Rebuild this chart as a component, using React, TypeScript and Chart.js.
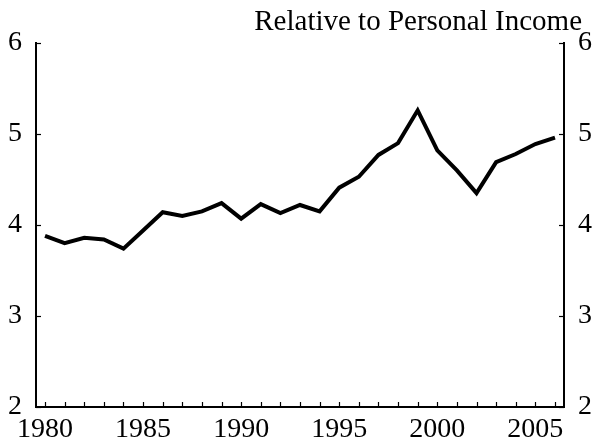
import React, { useEffect, useRef } from "react";
import { Chart, registerables } from "chart.js";

Chart.register(...registerables);

const years = [1980,1981,1982,1983,1984,1985,1986,1987,1988,1989,1990,1991,1992,1993,1994,1995,1996,1997,1998,1999,2000,2001,2002,2003,2004,2005,2006];
const values = [3.88,3.80,3.86,3.84,3.74,3.94,4.14,4.10,4.15,4.24,4.07,4.23,4.13,4.22,4.15,4.41,4.53,4.77,4.90,5.26,4.82,4.60,4.35,4.69,4.78,4.89,4.96];
const yTicks = [2, 3, 4, 5, 6];
const titleText = "Relative to Personal Income";

const FONT = "'Liberation Serif', 'Times New Roman', serif";

const innerTicks = {
  id: "innerTicks",
  afterDraw(chart: any) {
    const ctx = chart.ctx;
    const ca = chart.chartArea;
    ctx.save();
    ctx.strokeStyle = "#000";
    ctx.lineWidth = 1.2;
    const xs = chart.scales.x;
    xs.ticks.forEach((t: any) => {
      const px = Math.round(xs.getPixelForValue(t.value)) + 0.5;
      ctx.beginPath();
      ctx.moveTo(px, ca.bottom);
      ctx.lineTo(px, ca.bottom - 5);
      ctx.stroke();
    });
    ["y", "y2"].forEach((id) => {
      const s = chart.scales[id];
      s.ticks.forEach((t: any) => {
        const py = Math.round(s.getPixelForValue(t.value)) + 0.5;
        ctx.beginPath();
        if (id === "y") {
          ctx.moveTo(ca.left, py);
          ctx.lineTo(ca.left + 5, py);
        } else {
          ctx.moveTo(ca.right, py);
          ctx.lineTo(ca.right - 5, py);
        }
        ctx.stroke();
      });
    });
    // title
    ctx.fillStyle = "#000";
    ctx.font = `29px ${FONT}`;
    ctx.textAlign = "right";
    ctx.textBaseline = "alphabetic";
    ctx.fillText(titleText, 582, 30);
    ctx.restore();
  },
};

export default function App() {
  const ref = useRef<HTMLCanvasElement>(null);
  useEffect(() => {
    document.body.style.margin = "0";
    const canvas = ref.current!;
    const yAxis = (position: "left" | "right", pad: number, width: number) => ({
      type: "linear" as const,
      position,
      min: 2,
      max: 6,
      afterBuildTicks: (s: any) => {
        s.ticks = yTicks.map((v) => ({ value: v }));
      },
      afterFit: (s: any) => {
        s.width = width;
      },
      grid: { display: true, drawOnChartArea: false, drawTicks: false },
      border: { display: true, color: "#000", width: 2 },
      ticks: {
        color: "#000",
        padding: pad,
        font: { family: FONT, size: 28 },
        callback: (v: any) => String(v),
      },
    });
    const chart = new Chart(canvas, {
      type: "line",
      data: {
        datasets: [
          {
            data: years.map((y, i) => ({ x: y, y: values[i] })),
            borderColor: "#000",
            borderWidth: 4,
            pointRadius: 0,
            tension: 0,
            fill: false,
          },
        ],
      },
      options: {
        animation: false,
        responsive: false,
        maintainAspectRatio: false,
        layout: { padding: { top: 43, left: 0, right: 0, bottom: 0 } },
        plugins: { legend: { display: false }, tooltip: { enabled: false }, title: { display: false } },
        scales: {
          x: {
            type: "linear",
            min: 1979.54,
            max: 2006.46,
            afterBuildTicks: (s: any) => {
              s.ticks = years.map((v) => ({ value: v }));
            },
            afterFit: (s: any) => {
              s.height = 33;
            },
            grid: { display: true, drawOnChartArea: false, drawTicks: false },
            border: { display: true, color: "#000", width: 2 },
            ticks: {
              color: "#000",
              padding: 6,
              autoSkip: false,
              maxRotation: 0,
              font: { family: FONT, size: 28 },
              callback: (v: any) => (Number(v) % 5 === 0 ? String(v) : ""),
            },
          },
          y: yAxis("left", 14, 36),
          y2: yAxis("right", 14, 31),
        },
      },
      plugins: [innerTicks],
    });
    return () => chart.destroy();
  }, []);
  return <canvas ref={ref} width={595} height={440} style={{ display: "block" }} />;
}
